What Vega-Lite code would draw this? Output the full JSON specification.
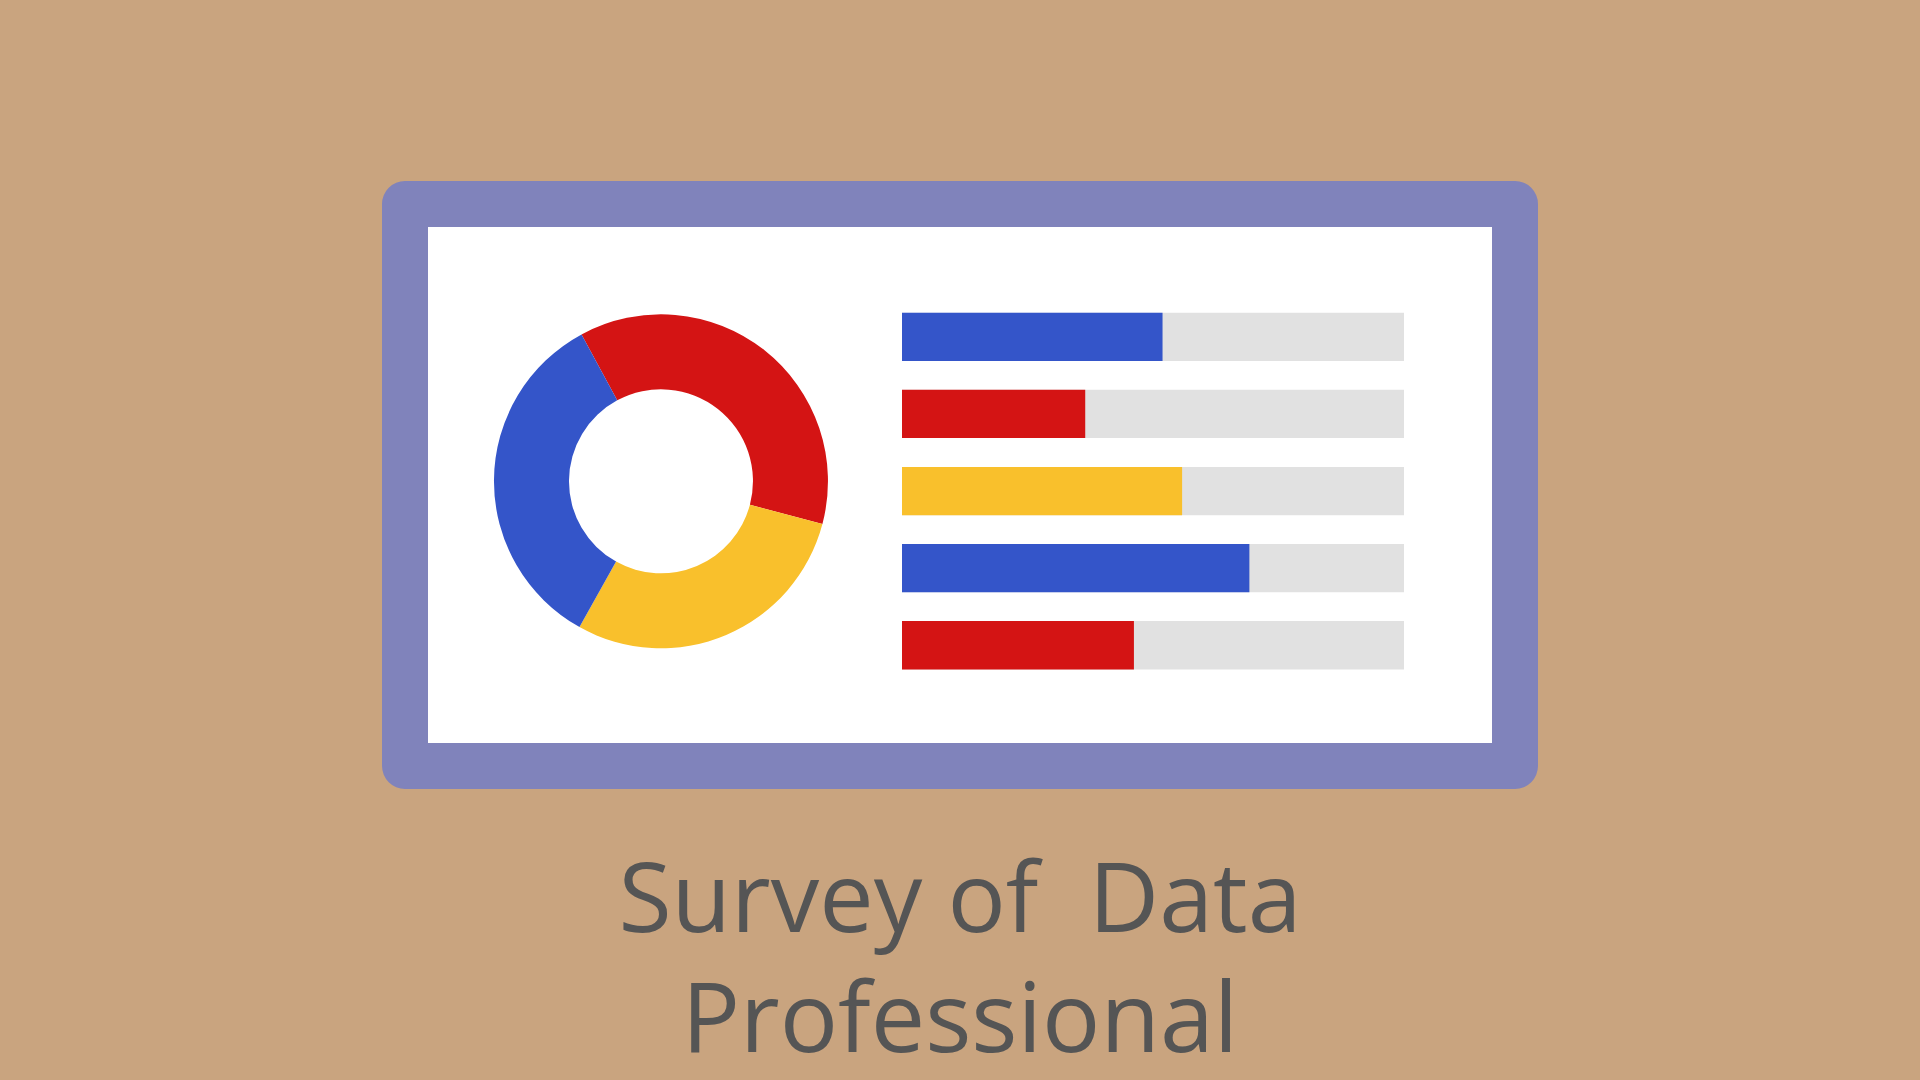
{
  "$schema": "https://vega.github.io/schema/vega-lite/v6.json",
  "autosize": "none",
  "width": 1110,
  "height": 562,
  "padding": {"left": 405, "top": 204, "right": 405, "bottom": 314},
  "background": "#c9a47f",
  "view": {"fill": "#ffffff", "fillOpacity": 1, "stroke": "#8083bb", "strokeWidth": 46, "strokeJoin": "round", "cornerRadius": 0},
  "config": {
    "view": {"fill": "#ffffff", "stroke": "#8083bb", "strokeWidth": 46, "strokeJoin": "round", "cornerRadius": 0}
  },
  "title": {
    "text": ["Survey of\u00a0 Data", "Professional"],
    "orient": "bottom",
    "anchor": "middle",
    "font": "Open Sans",
    "fontSize": 97,
    "fontWeight": "normal",
    "color": "#555555",
    "lineHeight": 120,
    "baseline": "alphabetic",
    "offset": 166
  },
  "datasets": {
    "bars": [
      {"item": 1, "group": "A", "share": 0.519, "full": 1},
      {"item": 2, "group": "B", "share": 0.365, "full": 1},
      {"item": 3, "group": "C", "share": 0.558, "full": 1},
      {"item": 4, "group": "A", "share": 0.692, "full": 1},
      {"item": 5, "group": "B", "share": 0.462, "full": 1}
    ],
    "donut": [
      {"group": "B", "share": 37, "rank": 1},
      {"group": "C", "share": 29, "rank": 2},
      {"group": "A", "share": 34, "rank": 3}
    ]
  },
  "layer": [
    {
      "data": {"name": "bars"},
      "mark": {"type": "bar", "color": "#e1e1e1"},
      "encoding": {
        "x": {"field": "full", "type": "quantitative", "axis": null, "scale": {"domain": [0, 1], "range": [497, 999]}},
        "y": {"field": "item", "type": "ordinal", "axis": null, "scale": {"range": [108.7, 465.4], "paddingInner": 0.3735, "paddingOuter": 0}}
      }
    },
    {
      "data": {"name": "bars"},
      "mark": {"type": "bar"},
      "encoding": {
        "x": {"field": "share", "type": "quantitative", "axis": null},
        "y": {"field": "item", "type": "ordinal", "axis": null},
        "color": {"field": "group", "type": "nominal", "legend": null, "scale": {"domain": ["A", "B", "C"], "range": ["#3455c9", "#d41414", "#f9c02c"]}}
      }
    },
    {
      "data": {"name": "donut"},
      "mark": {"type": "arc", "outerRadius": 167, "innerRadius": 92, "x": {"expr": "width*0.2306"}, "y": {"expr": "height*0.4934"}},
      "encoding": {
        "theta": {"field": "share", "type": "quantitative", "stack": true, "scale": {"range": [-0.4957, 5.7875]}},
        "order": {"field": "rank", "type": "quantitative"},
        "color": {"field": "group", "type": "nominal", "legend": null}
      }
    }
  ]
}
